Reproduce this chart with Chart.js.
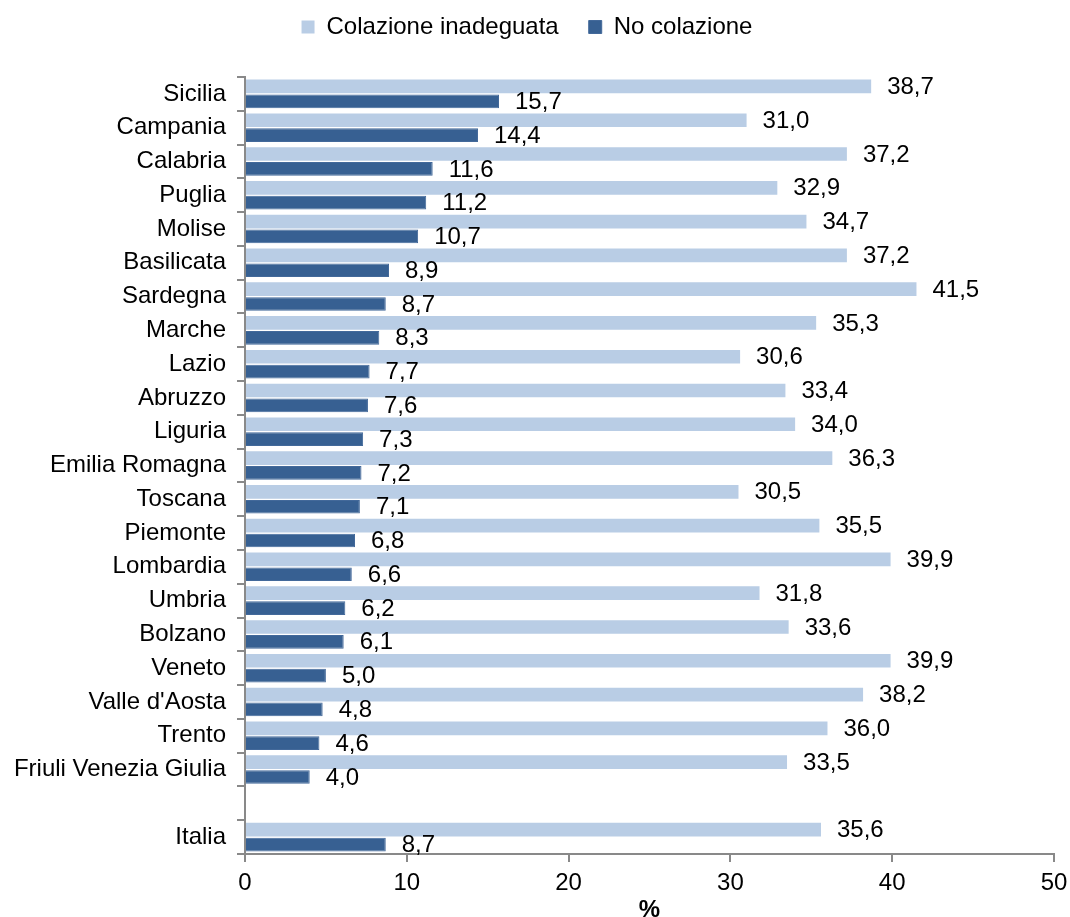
<!DOCTYPE html>
<html>
<head>
<meta charset="utf-8">
<script src="https://cdn.jsdelivr.net/npm/chart.js@4"></script>
<style>
  html, body { margin: 0; padding: 0; background: #fff; }
  #wrap { width: 1070px; height: 917px; }
</style>
</head>
<body>
<div id="wrap"><canvas id="myChart"></canvas></div>
<script>
const regions = ['Sicilia', 'Campania', 'Calabria', 'Puglia', 'Molise', 'Basilicata', 'Sardegna',
  'Marche', 'Lazio', 'Abruzzo', 'Liguria', 'Emilia Romagna', 'Toscana', 'Piemonte', 'Lombardia',
  'Umbria', 'Bolzano', 'Veneto', "Valle d'Aosta", 'Trento', 'Friuli Venezia Giulia', '', 'Italia'];

const inadeguata = [38.7, 31.0, 37.2, 32.9, 34.7, 37.2, 41.5, 35.3, 30.6, 33.4, 34.0, 36.3,
  30.5, 35.5, 39.9, 31.8, 33.6, 39.9, 38.2, 36.0, 33.5, null, 35.6];

const noColazione = [15.7, 14.4, 11.6, 11.2, 10.7, 8.9, 8.7, 8.3, 7.7, 7.6, 7.3, 7.2,
  7.1, 6.8, 6.6, 6.2, 6.1, 5.0, 4.8, 4.6, 4.0, null, 8.7];

const xTicks = [0, 10, 20, 30, 40, 50];

const FONT = 'Liberation Sans, Arial, sans-serif';
const axisGrey = '#898989';

// value labels written after the end of each bar, with comma decimals
const valueLabels = {
  id: 'valueLabels',
  afterDatasetsDraw(chart) {
    const ctx = chart.ctx;
    ctx.save();
    ctx.font = '24px ' + FONT;
    ctx.fillStyle = '#000';
    ctx.textAlign = 'left';
    ctx.textBaseline = 'middle';
    chart.data.datasets.forEach((ds, i) => {
      chart.getDatasetMeta(i).data.forEach((bar, j) => {
        const v = ds.data[j];
        if (v === null) return;
        ctx.fillText(v.toFixed(1).replace('.', ','), bar.x + 16, bar.y + 1);
      });
    });
    ctx.restore();
  }
};

// leave some room between the legend row and the plot
const legendGap = {
  id: 'legendGap',
  beforeLayout(chart) {
    const lg = chart.legend;
    if (lg && !lg._gapAdded) {
      const fit = lg.fit;
      lg.fit = function () {
        fit.call(this);
        this.height += 28;
      };
      lg._gapAdded = true;
    }
  }
};

const ctx = document.getElementById('myChart');

new Chart(ctx, {
  type: 'bar',
  data: {
    labels: regions,
    datasets: [
      {
        label: 'Colazione inadeguata',
        data: inadeguata,
        backgroundColor: '#b9cde5',
        categoryPercentage: 0.88,
        barPercentage: 0.92
      },
      {
        label: 'No colazione',
        data: noColazione,
        backgroundColor: '#376092',
        borderColor: '#43699a',
        borderWidth: 1,
        categoryPercentage: 0.88,
        barPercentage: 0.92
      }
    ]
  },
  options: {
    indexAxis: 'y',
    responsive: true,
    maintainAspectRatio: false,
    animation: false,
    layout: { padding: { top: -15, right: 16, left: 0, bottom: 0 } },
    plugins: {
      tooltip: { enabled: false },
      legend: {
        position: 'top',
        labels: {
          font: { family: FONT, size: 24 },
          color: '#000',
          boxWidth: 13,
          boxHeight: 13,
          padding: 30
        }
      }
    },
    scales: {
      y: {
        afterFit(scale) { scale.width = 245; },
        grid: {
          offset: true,
          drawOnChartArea: false,
          tickLength: 8,
          color: axisGrey,
          lineWidth: 2
        },
        border: { color: axisGrey, width: 2 },
        ticks: {
          font: { family: FONT, size: 24 },
          color: '#000',
          padding: 11,
          autoSkip: false
        }
      },
      x: {
        min: 0,
        max: 50,
        afterBuildTicks(scale) { scale.ticks = xTicks.map(v => ({ value: v })); },
        afterFit(scale) {
          scale.height = 63;
          scale.paddingRight = 0;
        },
        grid: {
          drawOnChartArea: false,
          tickLength: 8,
          color: axisGrey,
          lineWidth: 2
        },
        border: { color: axisGrey, width: 2 },
        ticks: {
          font: { family: FONT, size: 24 },
          color: '#000',
          padding: 7
        },
        title: {
          display: true,
          text: '%',
          font: { family: FONT, size: 24, weight: 'bold' },
          color: '#000',
          padding: { top: 0, bottom: -8 }
        }
      }
    }
  },
  plugins: [valueLabels, legendGap]
});
</script>
</body>
</html>
